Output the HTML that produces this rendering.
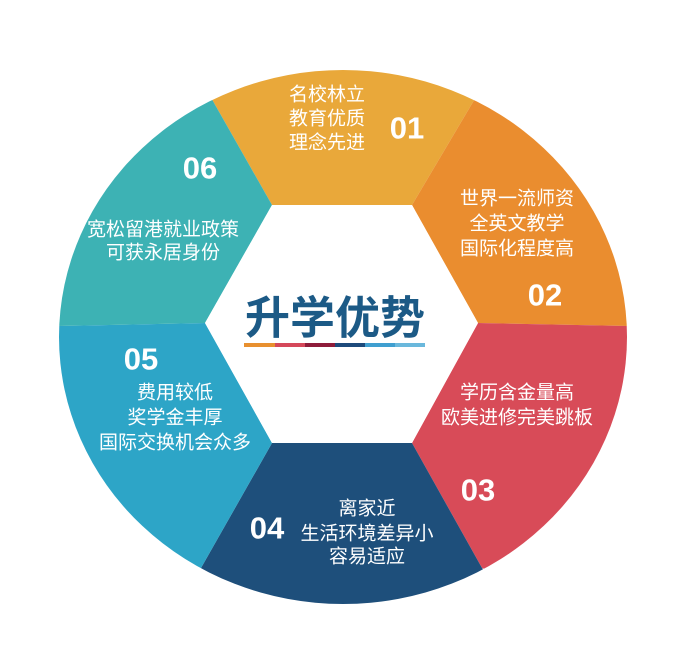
<!DOCTYPE html>
<html><head><meta charset="utf-8"><style>
html,body{margin:0;padding:0;background:#fff;width:679px;height:648px;overflow:hidden}
svg{display:block;overflow:hidden}
.t{font-family:"Liberation Sans","Noto Sans CJK SC",sans-serif;fill:#fff;font-size:19px;text-anchor:middle;dominant-baseline:central}
.n{font-family:"Liberation Sans",sans-serif;fill:#fff;font-size:31px;font-weight:bold;text-anchor:middle;dominant-baseline:central}
</style></head><body>
<svg width="679" height="648" viewBox="0 0 679 648">
<defs><clipPath id="c"><ellipse cx="343" cy="337" rx="284" ry="267"/></clipPath></defs>
<g clip-path="url(#c)">
<polygon points="272,205 412,205 486,80 560,0 130,0 201,80" fill="#e9a83a"/>
<polygon points="412,205 478,323 628,326 679,326 679,0 560,0 486,80" fill="#ea8d2f"/>
<polygon points="478,323 412,443 482,568 679,648 679,326 628,326" fill="#d84b58"/>
<polygon points="412,443 272,443 201,568 150,648 560,648 482,568" fill="#1e4f7b"/>
<polygon points="272,443 205,323 59,326 0,326 0,648 150,648 201,568" fill="#2da5c7"/>
<polygon points="205,323 272,205 201,80 130,0 0,0 0,326 59,326" fill="#3db2b4"/>
</g>
<polygon points="205,323 272,205 412,205 478,323 412,443 272,443" fill="#fff"/>
<text x="335" y="318" font-family="Liberation Sans,Noto Sans CJK SC,sans-serif" font-size="45" font-weight="bold" fill="#1c5a86" text-anchor="middle" dominant-baseline="central">升学优势</text>
<rect x="244" y="343" width="31" height="4" fill="#e8902f"/>
<rect x="275" y="343" width="30" height="4" fill="#d5485a"/>
<rect x="305" y="343" width="30" height="4" fill="#8e1c3a"/>
<rect x="335" y="343" width="30" height="4" fill="#1d4a7b"/>
<rect x="365" y="343" width="30" height="4" fill="#3f9fd0"/>
<rect x="395" y="343" width="30" height="4" fill="#6ab8dc"/>
<text class="t" x="327" y="95">名校林立</text>
<text class="t" x="327" y="119">教育优质</text>
<text class="t" x="327" y="143">理念先进</text>
<text class="n" x="407" y="128">01</text>
<text class="t" x="517" y="199">世界一流师资</text>
<text class="t" x="517" y="224">全英文教学</text>
<text class="t" x="517" y="249">国际化程度高</text>
<text class="n" x="545" y="295">02</text>
<text class="t" x="517" y="393">学历含金量高</text>
<text class="t" x="517" y="418">欧美进修完美跳板</text>
<text class="n" x="478" y="490">03</text>
<text class="n" x="267" y="528">04</text>
<text class="t" x="367" y="509">离家近</text>
<text class="t" x="367" y="534">生活环境差异小</text>
<text class="t" x="367" y="557">容易适应</text>
<text class="n" x="141" y="359">05</text>
<text class="t" x="175" y="393">费用较低</text>
<text class="t" x="175" y="418">奖学金丰厚</text>
<text class="t" x="175" y="443">国际交换机会众多</text>
<text class="n" x="200" y="168">06</text>
<text class="t" x="163" y="230">宽松留港就业政策</text>
<text class="t" x="163" y="253">可获永居身份</text>
</svg>
</body></html>
